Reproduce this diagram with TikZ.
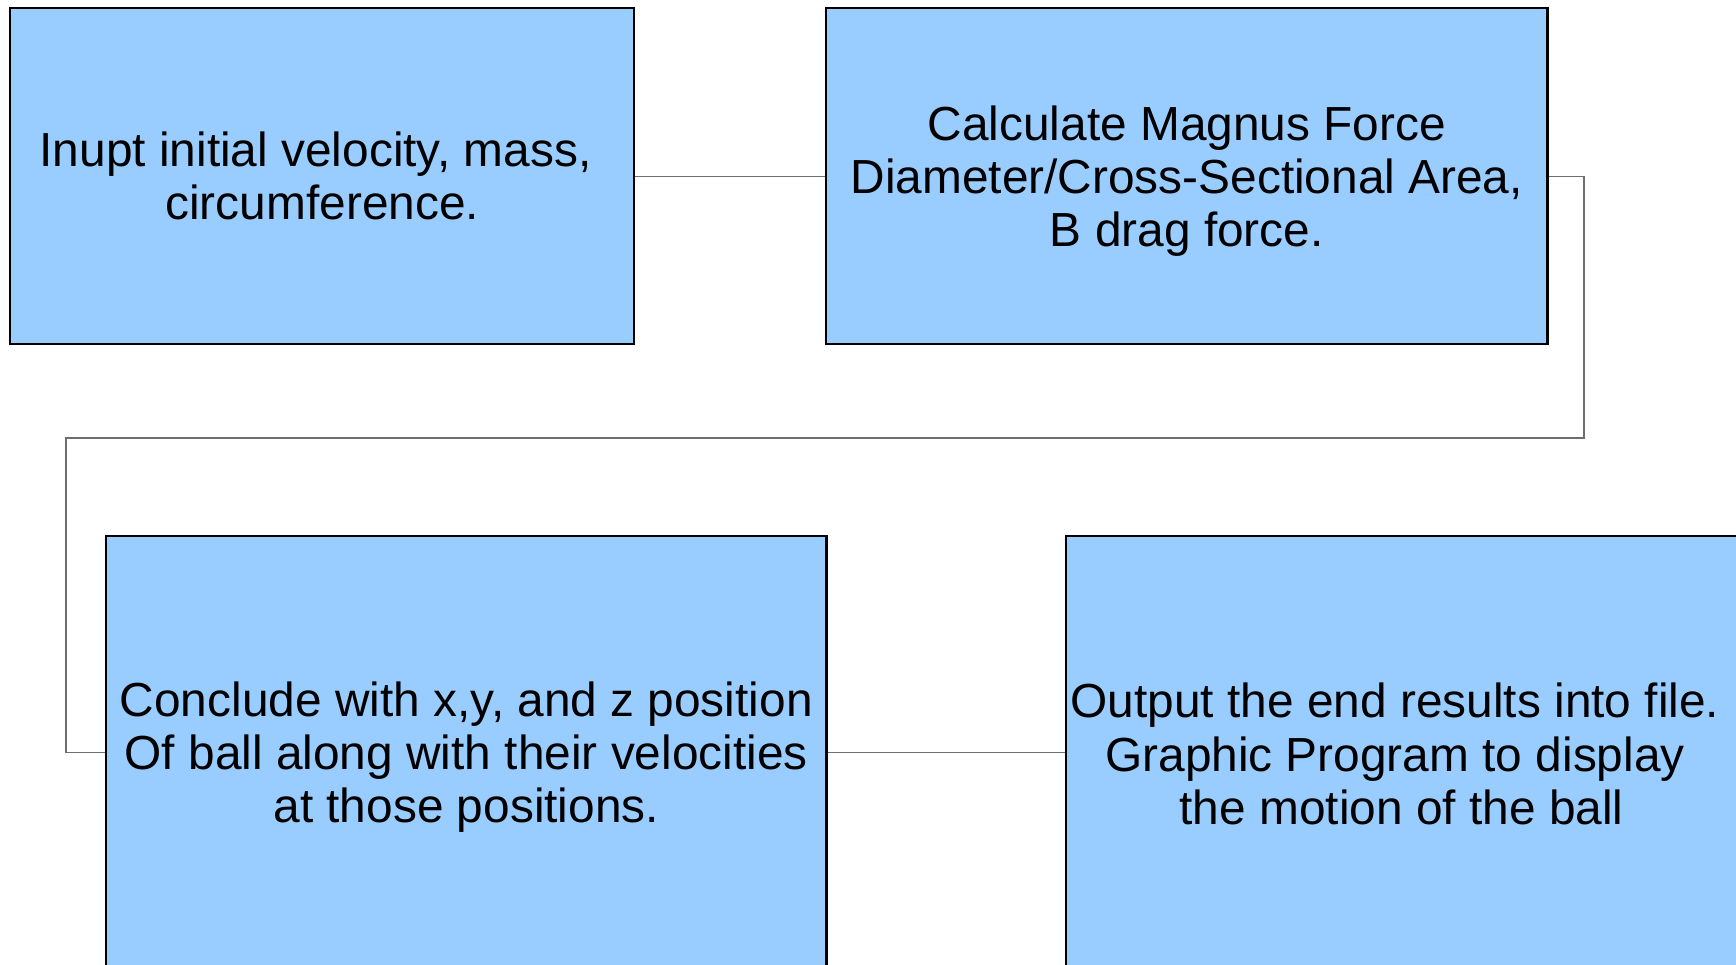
\documentclass[tikz,border=0pt]{standalone}
\usepackage{fontspec}
\setmainfont{Liberation Sans}
\usepackage{xcolor}
\definecolor{vizBox}{HTML}{99CCFF}
\definecolor{vizWire}{HTML}{6E6E6E}

\begin{document}
\begin{tikzpicture}[x=0.01cm, y=-0.01cm,
  stepbox/.style={draw=black, fill=vizBox, line width=0.6pt, anchor=north west, inner sep=0pt, align=center, font=\fontsize{13.6}{15.1}\selectfont},
  steptext/.style={align=center, inner sep=0pt, font=\fontsize{13.6}{15.1}\selectfont},
  wire/.style={draw=vizWire, line width=0.35pt}]
  \useasboundingbox (0,0) rectangle (1736,965);
  \clip (0,0) rectangle (1736,965);
  \node[stepbox, minimum width=6.24cm, minimum height=3.36cm] (input) at (9,7) {Inupt initial velocity, mass,\hspace*{0.278em}\\circumference.};
  \node[stepbox, minimum width=7.21cm, minimum height=3.36cm] (calc) at (825,7) {\rule{0pt}{12.8pt}Calculate Magnus Force\\Diameter/Cross-Sectional Area,\\B drag force.};
  \node[stepbox, minimum width=7.2cm, minimum height=4.32cm] (conclude) at (105,535) {\rule{0pt}{12.8pt}Conclude with x,y, and z position\\Of ball along with their velocities\hspace*{0.278em}\\at those positions.};
  \node[stepbox, minimum width=7.2cm, minimum height=4.32cm] (output) at (1065,535) {};
  \node[steptext] (outputtext) at (1395,754) {Output the end results into file.\\Graphic Program to display\\\hspace*{0.278em}the motion of the ball};
  \coordinate (bendR) at (1584,438);
  \coordinate (bendL) at (66,438);
  \draw[wire] (input.east) -- (calc.west);
  \draw[wire] (calc.east) -| (bendR) -- (bendL) |- (conclude.west);
  \draw[wire] (conclude.east) -- (output.west);
\end{tikzpicture}
\end{document}
